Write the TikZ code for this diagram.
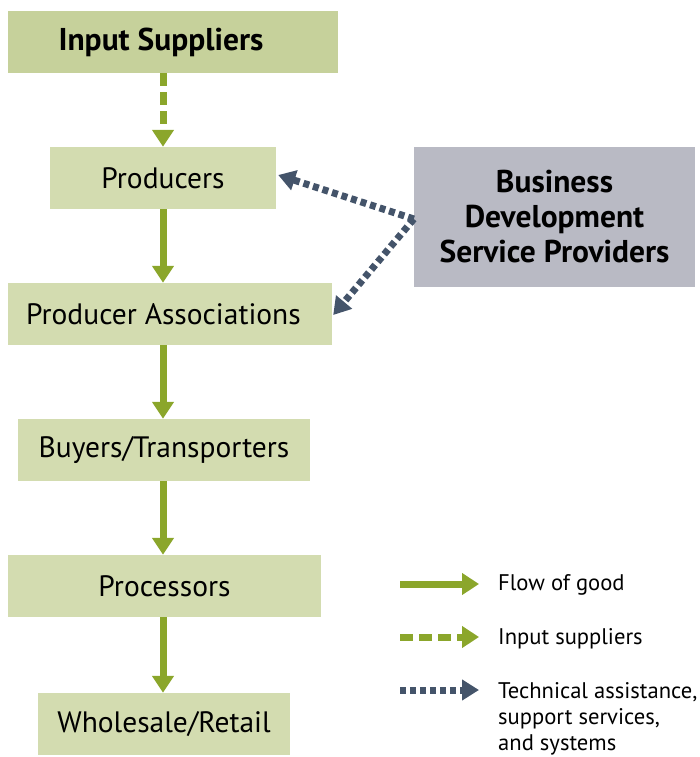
\documentclass[tikz,border=0pt]{standalone}
\usepackage{fontspec}
\setmainfont{PT Sans}
\usetikzlibrary{arrows.meta}
\definecolor{boxgreen}{HTML}{D3DCB0}
\definecolor{topgreen}{HTML}{C6D19B}
\definecolor{bdsgray}{HTML}{B9BAC4}
\definecolor{arrgreen}{HTML}{8BA62B}
\definecolor{arrslate}{HTML}{44546A}
\tikzset{
  chainbox/.style={rectangle, fill=boxgreen, minimum height=62pt, inner sep=0pt,
    font=\fontsize{29.5}{34}\selectfont},
  flowarr/.style={draw=arrgreen, line width=7pt, -{Triangle[width=21pt,length=17pt]}, arrgreen},
  inarr/.style={flowarr, dash pattern=on 13pt off 6pt},
  techarr/.style={draw=arrslate, line width=7pt, dash pattern=on 6pt off 4pt,
    -{Triangle[width=20pt,length=17pt]}, arrslate},
  legtext/.style={anchor=west, inner sep=0pt, align=left,
    font=\fontsize{22.6}{26}\selectfont}
}
\begin{document}
\begin{tikzpicture}[x=1pt,y=-1pt]
\useasboundingbox (0,0) rectangle (699,757);
\node[chainbox, fill=topgreen, minimum width=330pt, font=\bfseries\fontsize{31.5}{36}\selectfont] (input) at (173,42) {\kern-24pt Input Suppliers};
\node[chainbox, minimum width=226pt] (prod) at (163,178) {Producers};
\node[chainbox, minimum width=324pt] (pa) at (170,314) {\kern-13pt Producer Associations};
\node[chainbox, minimum width=292pt] (bt) at (164,450) {Buyers/Transporters};
\node[chainbox, minimum width=313pt] (proc) at (164.5,586) {Processors};
\node[chainbox, minimum width=252pt] (wr) at (164,724) {Wholesale/Retail};
\node[rectangle, fill=bdsgray, minimum width=281pt, minimum height=140pt, inner sep=0pt,
  align=center, font=\bfseries\fontsize{31.5}{35}\selectfont] (bds) at (554.5,217)
  {Business\\Development\\Service Providers};

\draw[inarr] (input.south -| prod.north) -- (prod.north);
\draw[flowarr] (prod.south) -- (pa.north -| prod.south);
\draw[flowarr] (pa.south -| prod.south) -- (bt.north -| prod.south);
\draw[flowarr] (bt.south -| prod.south) -- (proc.north -| prod.south);
\draw[flowarr] (proc.south -| prod.south) -- (wr.north -| prod.south);

\draw[techarr] ([yshift=-2pt]bds.west) -- ([xshift=2pt,yshift=3pt]prod.east);
\draw[techarr] ([yshift=-2pt]bds.west) -- ([xshift=1pt,yshift=-1pt]pa.east);

% legend
\coordinate (l1a) at (400,584); \coordinate (l1b) at (479,584);
\coordinate (l2a) at (400,637); \coordinate (l2b) at (479,637);
\coordinate (l3a) at (400,690); \coordinate (l3b) at (479,690);
\draw[flowarr] (l1a) -- (l1b);
\draw[inarr] (l2a) -- (l2b);
\draw[techarr] (l3a) -- (l3b);
\node[legtext] (t1) at (498,585) {Flow of good};
\node[legtext] (t2) at (498,639) {Input suppliers};
\node[legtext, anchor=north west] (t3) at (498,682) {Technical assistance,\\support services,\\and systems};
\end{tikzpicture}
\end{document}
